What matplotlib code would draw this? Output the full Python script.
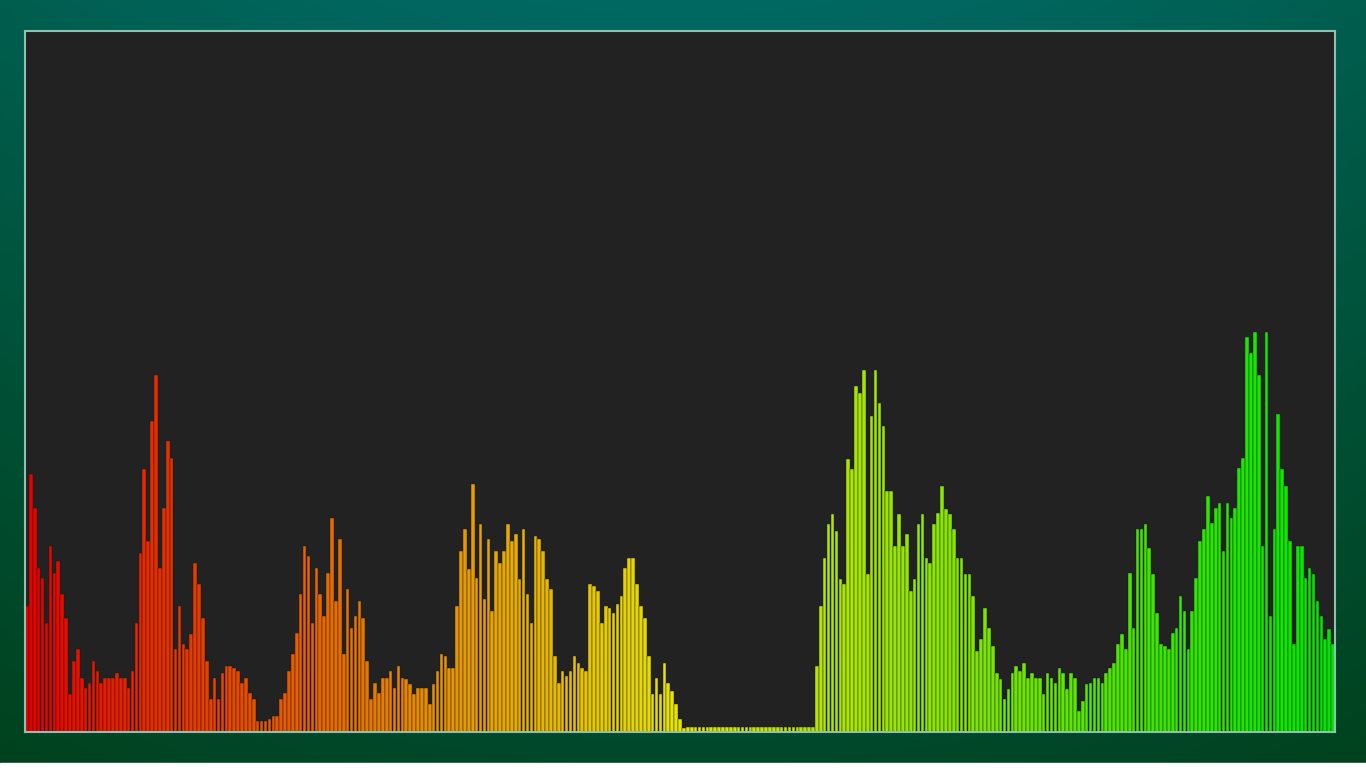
import numpy as np
import matplotlib.pyplot as plt
import matplotlib.colors as mcolors

# bar heights in pixels above the baseline, read left to right
red_part = [126, 258, 224, 164, 154, 109, 186, 159, 171, 138, 114, 38, 71, 83, 54, 44,
            49, 71, 61, 49, 54, 54, 54, 59, 54, 54, 44, 61, 109, 179, 263, 191, 311, 356,
            164, 224, 291, 274, 83, 126, 88, 83, 98, 169, 148, 114, 71, 33, 54, 33, 59, 66, 66]
orange_part = [64, 61, 49, 54, 39, 33, 11, 11, 11, 13, 16, 16, 33, 39, 61, 78, 99, 138,
               186, 176, 109, 164, 138, 116, 159, 214, 131, 193, 78, 143, 104, 116, 131, 114,
               71, 33, 49, 39, 54, 54, 61, 44, 66, 54, 53, 48, 38, 44, 44, 44, 28, 48, 61, 78, 76, 64]
yellow_part = [64, 126, 181, 203, 163, 248, 154, 208, 133, 193, 121, 181, 169, 181, 208, 191,
               198, 153, 203, 138, 109, 196, 193, 181, 153, 143, 76, 49, 61, 56, 61, 76, 69, 64,
               61, 148, 146, 141, 109, 126, 124, 119, 128, 136, 164, 174, 174, 148, 126, 114, 76,
               38, 54, 38, 69, 49, 41, 28, 13, 4]
silent_part = [5] * 33
lime_part = [66, 126, 174, 208, 218, 201, 153, 148, 273, 263, 346, 339, 361, 158, 316, 361,
             329, 306, 241, 241, 186, 218, 186, 198, 141, 153, 208, 218, 174, 169, 208, 219,
             246, 223, 218, 203, 174, 174, 158, 158, 136, 81, 93, 124, 104, 86, 59, 53, 33]
green_low = [43, 59, 66, 61, 69, 54, 59, 54, 54, 38, 59, 54, 49, 64, 59, 43, 59, 54, 21, 31,
             48, 49, 54, 54, 49, 59, 64, 69, 88, 98, 83, 159, 104, 203, 203]
green_high = [208, 184, 158, 119, 88, 86, 83, 99, 104, 136, 121, 83, 121, 154, 191, 203, 236,
              209, 224, 229, 181, 229, 214, 224, 264, 274, 394, 378, 399, 356, 186, 399, 116,
              203, 318, 263, 246, 191, 88, 186, 186, 154, 164, 158, 131, 116, 93, 103, 88]

heights = np.array(red_part + orange_part + yellow_part + silent_part
                   + lime_part + green_low + green_high)
n = len(heights)

W, H = 1366, 768
fig = plt.figure(figsize=(W / 100, H / 100), dpi=100)

# frame background: teal at the top fading to dark green at the bottom
bg = fig.add_axes([0, 0, 1, 1])
bg.axis('off')
yy, xx = np.mgrid[0:1:200j, 0:1:400j]
top = np.array([0, 104, 98]) / 255
bottom = np.array([0, 72, 42]) / 255
img = top * (1 - yy[..., None]) + bottom * yy[..., None]
side = np.abs(xx - 0.5)[..., None] * 2
img = img * (1 - 0.12 * side ** 2) + np.array([0, 0.01, -0.03]) * side ** 2
bg.imshow(np.clip(img, 0, 1), aspect='auto', extent=[0, 1, 0, 1], zorder=0)
bg.axhspan(0, 5 / H, color='white', zorder=2)
bg.set_xlim(0, 1)
bg.set_ylim(0, 1)

ax = fig.add_axes([25 / W, (H - 732) / H, 1310 / W, 701 / H])
ax.set_facecolor('#222222')
hues = np.linspace(0, 1 / 3, n)
colors = mcolors.hsv_to_rgb(np.column_stack([hues, np.full(n, 1.0), np.full(n, 0.9)]))
ax.bar(np.arange(n), heights, width=0.92, color=colors, edgecolor='#151515', linewidth=0.3)
ax.set_xlim(-0.5, n - 0.5)
ax.set_ylim(0, 700)
ax.set_xticks([])
ax.set_yticks([])
for s in ax.spines.values():
    s.set_color('#8fc0b2')
    s.set_linewidth(1.5)

fig.savefig('out.png', dpi=100)
